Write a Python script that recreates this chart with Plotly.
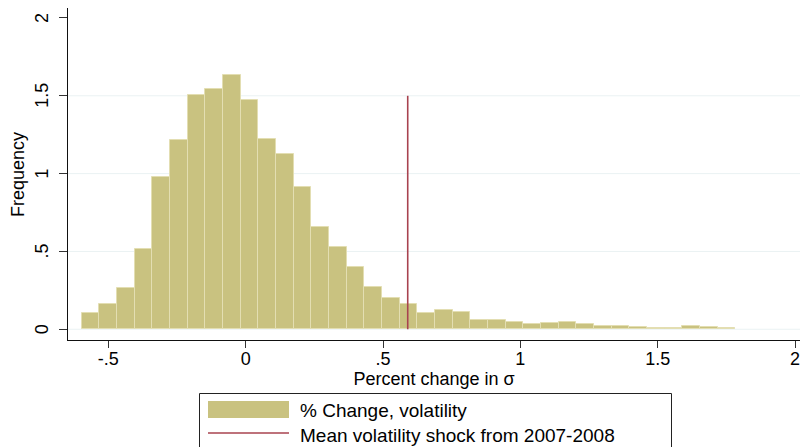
import plotly.graph_objects as go

# ---- data ----
bin_start = -0.597
bin_width = 0.0643
freq = [0.107, 0.161, 0.268, 0.514, 0.977, 1.217, 1.507, 1.541, 1.635, 1.473,
        1.224, 1.127, 0.911, 0.660, 0.529, 0.401, 0.270, 0.201, 0.161, 0.105,
        0.122, 0.113, 0.060, 0.058, 0.049, 0.036, 0.040, 0.045, 0.032, 0.019,
        0.023, 0.015, 0.006, 0.010, 0.021, 0.013, 0.008]
shock_x = 0.59
shock_top = 1.5
x_tickvals = [-0.5, 0, 0.5, 1, 1.5, 2]
x_ticktext = ["-.5", "0", ".5", "1", "1.5", "2"]
y_tickvals = [0, 0.5, 1, 1.5, 2]
y_ticktext = ["0", ".5", "1", "1.5", "2"]
grid_vals = [0, 0.5, 1, 1.5]
legend_labels = ["% Change, volatility", "Mean volatility shock from 2007-2008"]

centers = [bin_start + bin_width * (i + 0.5) for i in range(len(freq))]

BAR = "#C9C280"
BAR_EDGE = "#E3DEB2"
RED = "#A8434F"
GRID = "#EAF2F3"
FONT = "Liberation Sans, Arial, sans-serif"

W, H = 800, 447
L, R, T, B = 68, 0, 8, 107
pw, ph = W - L - R, H - T - B


def px(xp):
    return (xp - L) / pw


def py(yp):
    return (H - B - yp) / ph


fig = go.Figure()
fig.add_trace(go.Bar(x=centers, y=freq, width=bin_width,
                     marker=dict(color=BAR, line=dict(color=BAR_EDGE, width=1)),
                     showlegend=False))
fig.add_trace(go.Scatter(x=[shock_x, shock_x], y=[0, shock_top], mode="lines",
                         line=dict(color=RED, width=1.6), showlegend=False))

shapes = []
for g in grid_vals:
    shapes.append(dict(type="line", xref="paper", yref="y", x0=0, x1=1, y0=g, y1=g,
                       line=dict(color=GRID, width=1), layer="below"))

# manual legend
shapes.append(dict(type="rect", xref="paper", yref="paper",
                   x0=px(199.5), x1=px(671.5), y0=py(393.5), y1=py(460),
                   line=dict(color="#222", width=1), fillcolor="white"))
shapes.append(dict(type="rect", xref="paper", yref="paper",
                   x0=px(208), x1=px(289), y0=py(401), y1=py(418),
                   line=dict(width=0), fillcolor=BAR))
shapes.append(dict(type="line", xref="paper", yref="paper",
                   x0=px(208), x1=px(289), y0=py(433), y1=py(433),
                   line=dict(color=RED, width=1.5)))

annotations = [
    dict(text=legend_labels[0], xref="paper", yref="paper", x=px(298), y=py(410),
         xanchor="left", yanchor="middle", showarrow=False,
         font=dict(family=FONT, size=19, color="black")),
    dict(text=legend_labels[1], xref="paper", yref="paper", x=px(298), y=py(435),
         xanchor="left", yanchor="middle", showarrow=False,
         font=dict(family=FONT, size=19, color="black")),
    dict(text="Frequency", xref="paper", yref="paper", x=px(18), y=py(174),
         xanchor="center", yanchor="middle", textangle=-90, showarrow=False,
         font=dict(family=FONT, size=18, color="black")),
]
# y tick labels (rotated, set away from the axis as in the reference)
for v, t in zip(y_tickvals, y_ticktext):
    annotations.append(dict(text=t, xref="paper", yref="y", x=px(42), y=v,
                            xanchor="center", yanchor="middle", textangle=-90,
                            showarrow=False,
                            font=dict(family=FONT, size=18, color="black")))

fig.update_layout(
    width=W, height=H,
    margin=dict(l=L, r=R, t=T, b=B, pad=0),
    paper_bgcolor="white", plot_bgcolor="white",
    font=dict(family=FONT, size=18, color="black"),
    bargap=0,
    shapes=shapes,
    annotations=annotations,
    showlegend=False,
    xaxis=dict(range=[-0.6467, 2.018], tickvals=x_tickvals, ticktext=x_ticktext,
               showgrid=False, zeroline=False, showline=True, linecolor="#111",
               linewidth=1, ticks="outside", ticklen=7, tickcolor="#333",
               tickfont=dict(size=18), automargin=False, ticklabelstandoff=-5,
               ticklabeloverflow="allow",
               title=dict(text="Percent change in σ", font=dict(size=18), standoff=0)),
    yaxis=dict(range=[-0.069, 2.064], tickvals=y_tickvals, showticklabels=False,
               showgrid=False, zeroline=False, showline=True, linecolor="#111",
               linewidth=1, ticks="outside", ticklen=8, tickcolor="#333",
               automargin=False),
)

fig.write_html("out.html", config={"displayModeBar": False},
               post_script="document.body.style.margin='0px';document.body.style.padding='0px';")
